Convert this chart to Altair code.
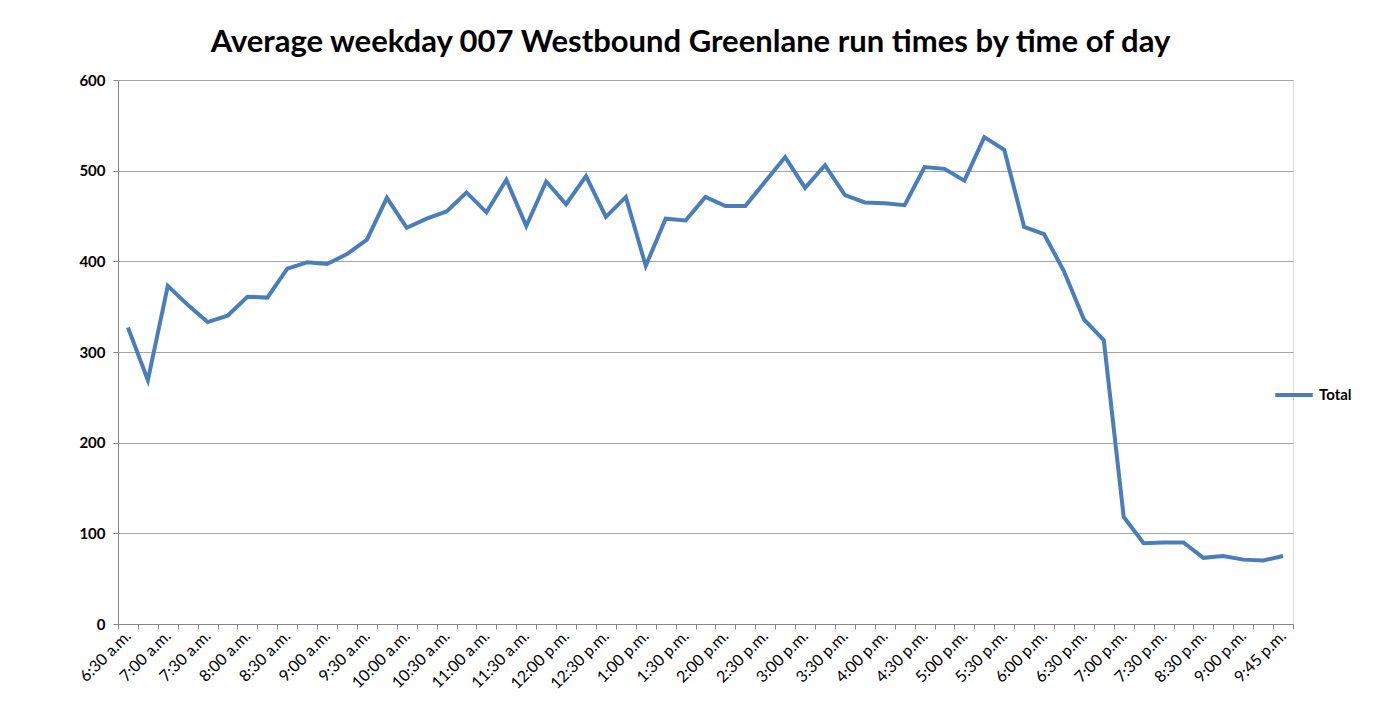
import altair as alt
import pandas as pd

times = [
    "6:30 a.m.", "6:45 a.m.", "7:00 a.m.", "7:15 a.m.", "7:30 a.m.", "7:45 a.m.",
    "8:00 a.m.", "8:15 a.m.", "8:30 a.m.", "8:45 a.m.", "9:00 a.m.", "9:15 a.m.",
    "9:30 a.m.", "9:45 a.m.", "10:00 a.m.", "10:15 a.m.", "10:30 a.m.", "10:45 a.m.",
    "11:00 a.m.", "11:15 a.m.", "11:30 a.m.", "11:45 a.m.", "12:00 p.m.", "12:15 p.m.",
    "12:30 p.m.", "12:45 p.m.", "1:00 p.m.", "1:15 p.m.", "1:30 p.m.", "1:45 p.m.",
    "2:00 p.m.", "2:15 p.m.", "2:30 p.m.", "2:45 p.m.", "3:00 p.m.", "3:15 p.m.",
    "3:30 p.m.", "3:45 p.m.", "4:00 p.m.", "4:15 p.m.", "4:30 p.m.", "4:45 p.m.",
    "5:00 p.m.", "5:15 p.m.", "5:30 p.m.", "5:45 p.m.", "6:00 p.m.", "6:15 p.m.",
    "6:30 p.m.", "6:45 p.m.", "7:00 p.m.", "7:15 p.m.", "7:30 p.m.", "8:00 p.m.",
    "8:30 p.m.", "8:45 p.m.", "9:00 p.m.", "9:30 p.m.", "9:45 p.m.",
]

shown_labels = [
    "6:30 a.m.", "7:00 a.m.", "7:30 a.m.", "8:00 a.m.", "8:30 a.m.", "9:00 a.m.",
    "9:30 a.m.", "10:00 a.m.", "10:30 a.m.", "11:00 a.m.", "11:30 a.m.", "12:00 p.m.",
    "12:30 p.m.", "1:00 p.m.", "1:30 p.m.", "2:00 p.m.", "2:30 p.m.", "3:00 p.m.",
    "3:30 p.m.", "4:00 p.m.", "4:30 p.m.", "5:00 p.m.", "5:30 p.m.", "6:00 p.m.",
    "6:30 p.m.", "7:00 p.m.", "7:30 p.m.", "8:30 p.m.", "9:00 p.m.", "9:45 p.m.",
]

total = [
    327, 269, 373, 352, 333, 340, 361, 360, 392, 399, 397, 408, 424, 470, 437,
    447, 455, 476, 454, 490, 439, 488, 463, 494, 449, 471, 395, 447, 445, 471,
    461, 461, 488, 515, 481, 506, 473, 465, 464, 462, 504, 502, 489, 537, 523,
    438, 430, 389, 336, 313, 118, 89, 90, 90, 73, 75, 71, 70, 75,
]

y_ticks = [0, 100, 200, 300, 400, 500, 600]

df = pd.DataFrame({"time": times, "value": total, "series": ["Total"] * len(times)})

FONT = "Lato"
shown_js = "[" + ",".join("'" + s + "'" for s in shown_labels) + "]"

chart = alt.Chart(df).mark_line(strokeWidth=4).encode(
    x=alt.X(
        "time:O",
        sort=times,
        bandPosition=0.5,
        scale=alt.Scale(type="band", paddingInner=0, paddingOuter=0),
        axis=alt.Axis(
            title=None,
            labelAngle=-45,
            labelAlign="right",
            labelBaseline="middle",
            labelFont=FONT,
            labelFontSize=16,
            labelColor="#000000",
            labelOverlap=False,
            labelPadding=4,
            labelExpr="indexof(" + shown_js + ", datum.value) >= 0 ? datum.label : ''",
            tickBand="extent",
            tickSize=5,
            tickColor="#868686",
            domainColor="#868686",
            grid=False,
        ),
    ),
    y=alt.Y(
        "value:Q",
        scale=alt.Scale(domain=[0, 600], nice=False),
        axis=alt.Axis(
            title=None,
            values=y_ticks,
            labelFont=FONT,
            labelFontSize=15,
            labelFontWeight="bold",
            labelColor="#000000",
            labelPadding=8,
            tickSize=5,
            tickColor="#868686",
            domainColor="#868686",
            gridColor="#a6a6a6",
            gridWidth=1.2,
        ),
    ),
    color=alt.Color(
        "series:N",
        scale=alt.Scale(range=["#4a7ebb"]),
        legend=alt.Legend(
            title=None,
            orient="none",
            legendX=1155,
            legendY=294,
            symbolType="stroke",
            symbolStrokeWidth=4,
            symbolSize=1400,
            labelFont=FONT,
            labelFontSize=15,
            labelFontWeight="bold",
            labelColor="#000000",
        ),
    ),
).properties(
    width=1175,
    height=544,
    title=alt.TitleParams(
        "Average weekday 007 Westbound Greenlane run times by time of day",
        font=FONT,
        fontSize=31,
        fontWeight="bold",
        color="#000000",
        anchor="middle",
        dx=-15,
        offset=14,
    ),
    autosize=alt.AutoSizeParams(type="none"),
    padding={"left": 110, "top": 72, "right": 60, "bottom": 80},
).configure_view(stroke=None).configure(background="white")

chart.save("out.html", embed_options={"renderer": "svg", "actions": False})
